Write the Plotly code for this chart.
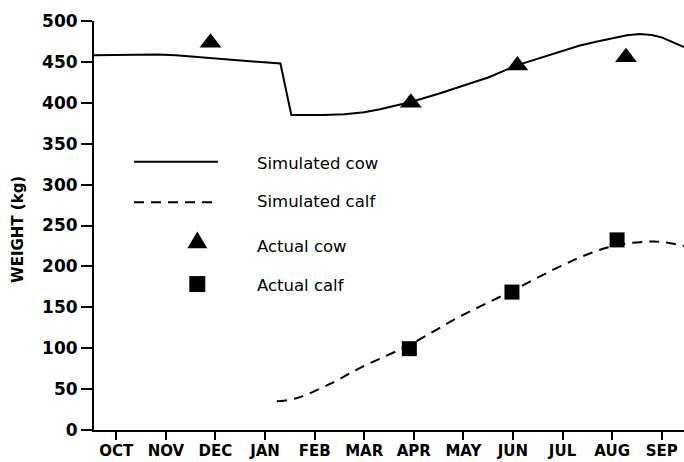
import plotly.graph_objects as go

# ---- data (month index: OCT=0 ... SEP=11) ----
month_labels = ["OCT", "NOV", "DEC", "JAN", "FEB", "MAR", "APR", "MAY", "JUN", "JUL", "AUG", "SEP"]

sim_cow_x = [-0.45, 0.0, 0.5, 0.83, 1.2, 1.69, 2.5, 3.31, 3.53, 4.17, 4.6, 5.0, 5.32, 5.94, 6.5, 7.0, 7.5,
             8.09, 8.6, 9.0, 9.35, 9.7, 10.0, 10.3, 10.56, 10.8, 11.0, 11.2, 11.45]
sim_cow_y = [458, 458.5, 459, 459, 458, 455.5, 452, 448, 385, 385, 386, 388.5, 392, 401, 411, 421, 431,
             446, 456, 464, 470, 475, 479, 482.5, 484, 483, 480, 475, 468]

sim_calf_x = [3.24, 3.64, 4.3, 4.92, 5.91, 6.94, 7.98, 8.95, 9.6, 10.1, 10.63, 11.0, 11.45]
sim_calf_y = [35, 39, 56, 76, 104, 139, 170, 200, 217, 226, 230, 230, 225]

act_cow_x = [1.9, 5.94, 8.09, 10.28, 11.61]
act_cow_y = [473.5, 400, 445.5, 455.6, 450.5]

act_calf_x = [5.91, 7.98, 10.1, 11.55]
act_calf_y = [99.4, 168.6, 232.4, 258]

legend_labels = ["Simulated cow", "Simulated calf", "Actual cow", "Actual calf"]

FONT = "DejaVu Sans"

fig = go.Figure()
fig.add_trace(go.Scatter(x=sim_cow_x, y=sim_cow_y, mode="lines",
                         line=dict(color="black", width=2), line_shape="linear",
                         showlegend=False))
fig.add_trace(go.Scatter(x=sim_calf_x, y=sim_calf_y, mode="lines",
                         line=dict(color="black", width=2, dash="10px,7px"), line_shape="spline",
                         showlegend=False))
fig.add_trace(go.Scatter(x=act_cow_x, y=act_cow_y, mode="markers",
                         marker=dict(symbol="triangle-up", size=19, color="black"),
                         showlegend=False, cliponaxis=False))
fig.add_trace(go.Scatter(x=act_calf_x, y=act_calf_y, mode="markers",
                         marker=dict(symbol="square", size=15, color="black"),
                         showlegend=False, cliponaxis=False))

# pixel -> paper helpers (plot area 94..684 x, 20.7..430.5 y)
L, R, T, B = 94, 684, 20.7, 430.5
def px(x):
    return (x - L) / (R - L)
def py(y):
    return (B - y) / (B - T)

shapes = []
# legend lines
shapes.append(dict(type="line", xref="paper", yref="paper", x0=px(134), x1=px(218), y0=py(161.7), y1=py(161.7),
                   line=dict(color="black", width=2)))
shapes.append(dict(type="line", xref="paper", yref="paper", x0=px(134), x1=px(218), y0=py(202.3), y1=py(202.3),
                   line=dict(color="black", width=2, dash="10px,7px")))
# legend triangle
tx, ty, hw, h = 197.3, 240, 10, 16.7
shapes.append(dict(type="path", xref="paper", yref="paper",
                   path=f"M {px(tx-hw)},{py(ty+h/2)} L {px(tx+hw)},{py(ty+h/2)} L {px(tx)},{py(ty-h/2)} Z",
                   fillcolor="black", line=dict(color="black", width=0)))
# legend square
sx, sy, s = 197.3, 284.3, 16
shapes.append(dict(type="rect", xref="paper", yref="paper", x0=px(sx-s/2), x1=px(sx+s/2), y0=py(sy+s/2), y1=py(sy-s/2),
                   fillcolor="black", line=dict(color="black", width=0)))
# x axis line extending left of y axis
shapes.append(dict(type="line", xref="paper", yref="paper", x0=px(84), x1=0, y0=0, y1=0,
                   line=dict(color="black", width=2)))

annotations = []
for lab, yy in zip(legend_labels, [163.3, 202, 246.5, 285.7]):
    annotations.append(dict(text=lab, xref="paper", yref="paper", x=px(255), y=py(yy),
                            xanchor="left", yanchor="middle", showarrow=False,
                            font=dict(family=FONT, size=16.5, color="black")))
annotations.append(dict(text="<b>WEIGHT (kg)</b>", xref="paper", yref="paper", x=px(18), y=py(230),
                        xanchor="center", yanchor="middle", textangle=-90, showarrow=False,
                        font=dict(family=FONT, size=15, color="black")))

fig.update_layout(
    width=684, height=462,
    margin=dict(l=L, r=0, t=T, b=462 - B, pad=0),
    paper_bgcolor="white", plot_bgcolor="white",
    shapes=shapes, annotations=annotations,
    font=dict(family=FONT, size=17, color="black"),
)
fig.update_xaxes(range=[-0.45, 11.45], tickvals=list(range(12)),
                 ticktext=[f"<b>{m}</b>" for m in month_labels],
                 showgrid=False, zeroline=False, showline=True, linecolor="black", linewidth=2,
                 ticks="outside", ticklen=8, tickwidth=2, tickcolor="black", ticklabelstandoff=-2,
                 tickfont=dict(family=FONT, size=15, color="black"))
fig.update_yaxes(range=[0, 500], tickvals=list(range(0, 501, 50)),
                 ticktext=[f"<b>{v}</b>" for v in range(0, 501, 50)],
                 showgrid=False, zeroline=False, showline=True, linecolor="black", linewidth=2,
                 ticks="outside", ticklen=11, tickwidth=2, tickcolor="black",
                 tickfont=dict(family=FONT, size=17, color="black"))

fig.write_html("out.html")
